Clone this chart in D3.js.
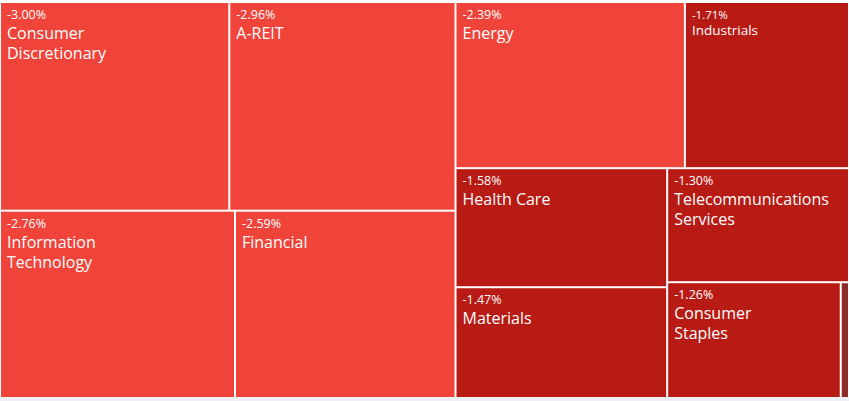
<!DOCTYPE html>
<html>
<head>
<meta charset="utf-8">
<script src="https://cdn.jsdelivr.net/npm/d3@7"></script>
<style>
  html, body { margin: 0; padding: 0; background: #ffffff; }
  svg { display: block; }
  text { font-family: "Open Sans", "Noto Sans", sans-serif; fill: #ffffff; }
</style>
</head>
<body>
<svg id="chart" width="849" height="401"></svg>
<script>
// ---- data ----
const sectors = ["Consumer Discretionary", "A-REIT", "Information Technology", "Financial",
                 "Energy", "Industrials", "Health Care", "Materials",
                 "Telecommunications Services", "Consumer Staples", "Utilities"];
const changes = [-3.00, -2.96, -2.76, -2.59, -2.39, -1.71, -1.58, -1.47, -1.30, -1.26, -0.06];

const W = 849, H = 401;
const svg = d3.select("#chart");

svg.append("rect").attr("x", 0).attr("y", 397).attr("width", W).attr("height", 4).attr("fill", "#eef0f4");

// binary partition, alternating split direction by depth (starting with a vertical cut)
function tileBinaryAlternate(parent, x0, y0, x1, y1) {
  const nodes = parent.children, n = nodes.length;
  const sums = new Array(n + 1);
  sums[0] = 0;
  for (let i = 0; i < n; i++) sums[i + 1] = sums[i] + nodes[i].value;
  function partition(i, j, value, x0, y0, x1, y1, horiz) {
    if (i >= j - 1) {
      const node = nodes[i];
      node.x0 = x0; node.y0 = y0; node.x1 = x1; node.y1 = y1;
      return;
    }
    const valueOffset = sums[i], valueTarget = value / 2 + valueOffset;
    let k = i + 1, hi = j - 1;
    while (k < hi) {
      const mid = (k + hi) >>> 1;
      if (sums[mid] < valueTarget) k = mid + 1; else hi = mid;
    }
    if ((valueTarget - sums[k - 1]) < (sums[k] - valueTarget) && i + 1 < k) --k;
    const valueLeft = sums[k] - valueOffset, valueRight = value - valueLeft;
    if (horiz) {
      const xk = value ? (x0 * valueRight + x1 * valueLeft) / value : x1;
      partition(i, k, valueLeft, x0, y0, xk, y1, !horiz);
      partition(k, j, valueRight, xk, y0, x1, y1, !horiz);
    } else {
      const yk = value ? (y0 * valueRight + y1 * valueLeft) / value : y1;
      partition(i, k, valueLeft, x0, y0, x1, yk, !horiz);
      partition(k, j, valueRight, x0, yk, x1, y1, !horiz);
    }
  }
  partition(0, n, parent.value, x0, y0, x1, y1, true);
}

const data = sectors.map((s, i) => ({ name: s, change: changes[i] }));
const root = d3.hierarchy({ children: data })
  .sum(d => d.change !== undefined ? Math.abs(d.change) : 0)
  .sort((a, b) => b.value - a.value);

d3.treemap()
  .tile(tileBinaryAlternate)
  .size([W, 397 - 1])
  .paddingInner(2)
  .paddingOuter(1)(root);

const color = d3.scaleThreshold()
  .domain([-2, -1])
  .range(["#f04339", "#b81a14", "#8b2b2a"]);

const g = svg.append("g").attr("transform", "translate(0,2)");

const cells = g.selectAll("g.cell")
  .data(root.leaves())
  .join("g")
  .attr("class", "cell")
  .attr("transform", d => `translate(${d.x0},${d.y0})`);

cells.append("rect")
  .attr("width", d => Math.max(0, d.x1 - d.x0))
  .attr("height", d => Math.max(0, d.y1 - d.y0))
  .attr("fill", d => color(d.data.change));

const labelled = cells.filter(d => (d.x1 - d.x0) > 60);

function wrapWords(name, maxChars) {
  const words = name.split(" ");
  const lines = [];
  let cur = "";
  words.forEach(w => {
    const test = cur ? cur + " " + w : w;
    if (test.length > maxChars && cur) { lines.push(cur); cur = w; }
    else cur = test;
  });
  if (cur) lines.push(cur);
  return lines;
}

const fmt = v => d3.format(".2f")(v).replace("\u2212", "-") + "%";

labelled.each(function(d) {
  const sel = d3.select(this);
  const w = d.x1 - d.x0;
  const small = w < 165;
  const nameSize = small ? 13.5 : 16;
  sel.append("text")
    .attr("x", 6)
    .attr("y", 16)
    .style("font-size", small ? "11.5px" : "12.5px")
    .text(fmt(d.data.change));
  const lines = wrapWords(d.data.name, 12);
  const t = sel.append("text")
    .style("font-size", nameSize + "px");
  lines.forEach((ln, i) => {
    t.append("tspan")
      .attr("x", 6)
      .attr("y", (small ? 32 : 36) + i * 20)
      .text(ln);
  });
});
</script>
</body>
</html>
